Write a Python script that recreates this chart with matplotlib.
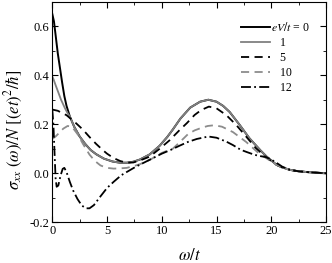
import matplotlib
matplotlib.use('Agg')
import matplotlib.pyplot as plt
from matplotlib.ticker import MultipleLocator

plt.rcParams['font.family'] = ['Liberation Serif', 'DejaVu Serif']
plt.rcParams['mathtext.fontset'] = 'stix'

# eV/t = 0
w0 = [0, 0.15, 0.3, 0.5, 0.7, 0.9, 1.1, 1.3, 1.6, 2.0, 2.5, 3.0, 3.5, 4.0, 4.7, 5.5,
      6.2, 6.8, 7.4, 8.0, 8.9, 9.8, 10.5, 11.0, 11.7, 12.6, 13.5, 14.25, 15.0, 15.6,
      16.2, 17.1, 18.0, 19.0, 19.6, 20.5, 21.0, 21.7, 22.5, 23.5, 25]
s0 = [0.65, 0.62, 0.565, 0.49, 0.43, 0.37, 0.315, 0.275, 0.232, 0.19, 0.15, 0.12, 0.095,
      0.078, 0.06, 0.048, 0.043, 0.043, 0.047, 0.056, 0.077, 0.112, 0.148, 0.178, 0.223,
      0.268, 0.292, 0.30, 0.292, 0.275, 0.25, 0.198, 0.143, 0.094, 0.067, 0.034, 0.024,
      0.014, 0.008, 0.004, 0.0]

# eV/t = 1
w1 = [0, 0.1, 0.3, 0.55, 0.8, 1.16, 1.4, 1.6, 2.0, 2.5, 3.0, 3.5, 4.0, 4.7, 5.5,
      6.2, 6.8, 7.4, 8.0, 8.9, 9.8, 10.5, 11.0, 11.7, 12.6, 13.5, 14.25, 15.0, 15.6,
      16.2, 17.1, 18.0, 19.0, 19.6, 20.5, 21.0, 21.7, 22.5, 23.5, 25]
s1 = [0.395, 0.385, 0.36, 0.33, 0.30, 0.265, 0.245, 0.232, 0.19, 0.15, 0.12, 0.095,
      0.078, 0.06, 0.048, 0.043, 0.043, 0.047, 0.056, 0.077, 0.112, 0.148, 0.178, 0.223,
      0.268, 0.292, 0.30, 0.292, 0.275, 0.25, 0.198, 0.143, 0.094, 0.067, 0.034, 0.024,
      0.014, 0.008, 0.004, 0.0]

# eV/t = 5
w5 = [0, 0.5, 1.3, 2.2, 2.8, 3.4, 4.0, 4.6, 5.0, 5.6, 6.2, 6.8, 7.4, 8.0, 8.9, 9.8,
      10.7, 11.6, 12.3, 13.0, 13.6, 14.3, 15.0, 15.9, 16.8, 17.7, 18.6, 19.5, 20.5,
      21.0, 21.7, 22.5, 23.5, 25]
s5 = [0.26, 0.255, 0.237, 0.203, 0.178, 0.148, 0.12, 0.095, 0.08, 0.062, 0.05, 0.043,
      0.044, 0.052, 0.068, 0.1, 0.134, 0.175, 0.205, 0.238, 0.258, 0.272, 0.265, 0.237,
      0.197, 0.15, 0.102, 0.066, 0.034, 0.024, 0.014, 0.008, 0.004, 0.0]

# eV/t = 10
w10 = [0, 0.3, 0.7, 1.0, 1.4, 1.8, 2.3, 2.8, 3.4, 3.9, 4.4, 5.0, 5.6, 6.2, 6.8, 7.5,
       8.0, 8.5, 9.0, 9.5, 10.0, 10.5, 11.0, 11.6, 12.4, 13.0, 13.6, 14.2, 14.8, 15.5,
       16.5, 17.7, 18.9, 19.6, 20.5, 21.0, 21.7, 22.5, 23.5, 25]
s10 = [0.14, 0.15, 0.168, 0.182, 0.193, 0.19, 0.16, 0.12, 0.076, 0.05, 0.032, 0.022,
       0.019, 0.02, 0.022, 0.03, 0.037, 0.046, 0.057, 0.07, 0.083, 0.092, 0.1, 0.125,
       0.16, 0.175, 0.185, 0.193, 0.196, 0.19, 0.168, 0.128, 0.08, 0.06, 0.034, 0.024,
       0.014, 0.008, 0.004, 0.0]

# eV/t = 12
w12 = [0, 0.1, 0.2, 0.3, 0.4, 0.55, 0.75, 0.95, 1.1, 1.3, 1.6, 1.9, 2.3, 2.7, 3.1,
       3.4, 3.8, 4.3, 5.0, 5.6, 6.3, 7.1, 7.6, 8.8, 10.0, 10.8, 11.6, 12.4, 13.2,
       14.25, 15.0, 15.9, 16.5, 17.2, 17.8, 18.5, 19.0, 19.5, 20.0, 20.5, 21.0, 21.7,
       22.5, 23.5, 25]
s12 = [0.26, 0.2, 0.09, -0.02, -0.055, -0.05, -0.01, 0.018, 0.022, 0.005, -0.035,
       -0.07, -0.105, -0.132, -0.143, -0.143, -0.13, -0.1, -0.06, -0.035, -0.008, 0.013,
       0.026, 0.053, 0.08, 0.095, 0.112, 0.128, 0.14, 0.15, 0.145, 0.129, 0.115, 0.096,
       0.086, 0.075, 0.07, 0.066, 0.056, 0.042, 0.027, 0.014, 0.008, 0.004, 0.0]

labels = ['$eV/t$ = 0', '   1', '   5', '   10', '   12']

fig = plt.figure(figsize=(3.32, 2.63), dpi=100)
ax = fig.add_axes([0.1575, 0.1548, 0.8245, 0.8387])

ax.plot(w0, s0, color='black', lw=1.4, label=labels[0])
ax.plot(w1, s1, color='#808080', lw=1.3, label=labels[1])
ax.plot(w5, s5, color='black', lw=1.3, ls=(0, (4.5, 3)), label=labels[2])
ax.plot(w10, s10, color='#8c8c8c', lw=1.3, ls=(0, (4.5, 3)), label=labels[3])
ax.plot(w12, s12, color='black', lw=1.3, ls=(0, (5.5, 1.8, 1, 1.8)), label=labels[4])

ax.set_xlim(0, 25)
ax.set_ylim(-0.2, 0.7)
ax.xaxis.set_major_locator(MultipleLocator(5))
ax.xaxis.set_minor_locator(MultipleLocator(2.5))
ax.yaxis.set_major_locator(MultipleLocator(0.2))
ax.yaxis.set_minor_locator(MultipleLocator(0.1))
ax.set_yticks([-0.2, 0.0, 0.2, 0.4, 0.6])
ax.set_yticklabels(['-0.2', '0.0', '0.2', '0.4', '0.6'])
ax.tick_params(which='both', direction='in', top=True, right=True, labelsize=9, pad=2)
ax.tick_params(which='major', length=4)
ax.tick_params(which='minor', length=2.5)

ax.set_xlabel(r'$\omega/t$', fontsize=12, labelpad=8)
ax.set_ylabel(r'$\sigma_{xx}\ (\omega)/N\ [(et)^2/\hbar]$', fontsize=12)
ax.yaxis.set_label_coords(-0.1, 0.42)

ax.legend(loc='upper left', bbox_to_anchor=(0.66, 0.95), frameon=False, fontsize=8.5,
          handlelength=2.4, handletextpad=0.15, labelspacing=0.25, borderpad=0.2)

fig.savefig('out.png', dpi=100)
